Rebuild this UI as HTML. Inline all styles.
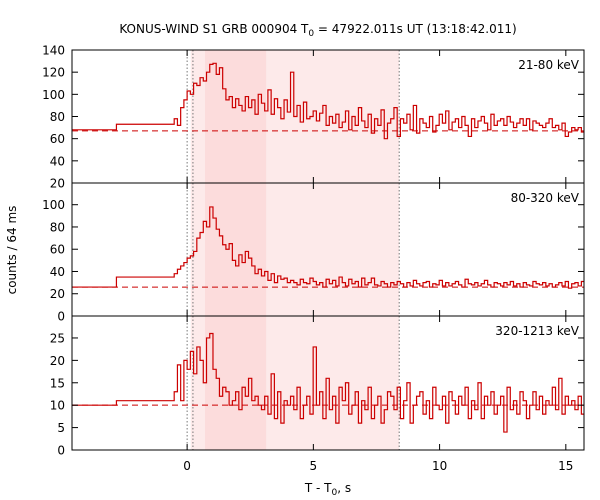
<!DOCTYPE html>
<html><head><meta charset="utf-8">
<style>
body{margin:0;background:#fff;}
svg{display:block;font-family:"DejaVu Sans","Liberation Sans",sans-serif;}
</style></head>
<body>
<svg id="chart" width="600" height="500" viewBox="0 0 600 500" xmlns="http://www.w3.org/2000/svg">
<text x="318" y="33" font-size="12" text-anchor="middle">KONUS-WIND S1 GRB 000904 T<tspan font-size="9" dy="3">0</tspan><tspan dy="-3"> = 47922.011s UT (13:18:42.011)</tspan></text>
<text x="328" y="492" font-size="12" text-anchor="middle">T - T<tspan font-size="9" dy="3">0</tspan><tspan dy="-3">, s</tspan></text>
<text x="0" y="0" font-size="12" text-anchor="middle" transform="translate(16,250) rotate(-90)">counts / 64 ms</text>
</svg>
<script>
const xTicks = [0, 5, 10, 15];
const panelLabels = ["21-80 keV", "80-320 keV", "320-1213 keV"];
const yTicksTop = [20, 40, 60, 80, 100, 120, 140];
const yTicksMid = [0, 20, 40, 60, 80, 100];
const yTicksBot = [0, 5, 10, 15, 20, 25];
const backgrounds = [67, 26, 10];
const preBins = [[-4.56, -2.8], [-2.8, -0.512]];
const preTop = [68, 73];
const preMid = [26, 35];
const preBot = [10, 11];
const binStart = -0.512;
const binWidth = 0.128;
const countsTop = [78,72,88,95,
103,100,110,108,115,112,120,127,
128,118,124,105,95,98,88,96,
90,85,98,88,95,82,100,92,
85,104,82,96,88,78,95,84,
120,80,90,75,93,78,80,85,
76,83,90,72,80,74,82,70,
75,85,68,80,72,88,76,70,
82,65,78,72,86,60,74,78,
88,62,78,74,82,68,90,65,
78,74,70,80,66,72,82,74,
85,68,75,78,70,80,72,62,
78,70,76,80,74,68,82,72,
76,78,72,80,75,70,74,78,
72,78,68,76,74,72,70,74,
78,70,72,68,74,62,66,70,
68,70,66];
const countsMid = [38,42,45,48,
52,54,58,70,75,85,80,98,
88,78,72,64,60,65,50,45,
55,48,58,52,45,38,42,36,
40,32,38,30,36,33,34,30,
32,30,28,33,30,29,34,31,
28,30,26,33,29,32,27,35,
30,27,33,29,31,26,34,28,
30,34,28,27,31,29,26,30,
28,31,29,26,30,27,32,29,
27,30,31,26,29,28,32,27,
30,27,29,31,28,26,33,29,
28,30,27,29,32,28,26,30,
29,27,30,28,31,27,29,26,
30,28,27,31,29,28,30,27,
29,26,28,30,27,31,25,29,
30,27,31];
const countsBot = [13,19,11,20,
18,22,17,23,20,15,25,26,
18,16,12,14,13,10,11,13,
9,14,12,16,11,12,10,9,
12,8,17,7,13,6,11,10,
12,9,14,7,10,12,8,23,
10,13,7,16,9,12,6,14,
11,15,8,10,13,6,11,9,
14,7,10,12,6,9,13,12,
9,14,7,11,15,6,10,12,
13,8,11,7,14,10,9,12,
6,13,11,8,12,10,14,7,
11,9,15,7,12,10,13,8,
10,12,4,14,9,11,8,13,
11,7,10,13,9,12,8,11,
10,14,9,16,8,12,10,11,
9,12,8];
const intervals = [[0.14, 8.4]];
const peakInterval = [0.71, 3.13];
const markers = [0, 0.23, 8.4];

const NS = "http://www.w3.org/2000/svg";
const svg = document.getElementById("chart");
const X0 = 72, X1 = 584, T0 = -4.56, T1 = 15.72;
const sx = t => X0 + (t - T0) / (T1 - T0) * (X1 - X0);
const panels = [
  {top: 50, bot: 183, ymin: 20, ymax: 140, ticks: yTicksTop, pre: preTop, data: countsTop},
  {top: 183, bot: 316, ymin: 0, ymax: 119.5, ticks: yTicksMid, pre: preMid, data: countsMid},
  {top: 316, bot: 450, ymin: 0, ymax: 29.9, ticks: yTicksBot, pre: preBot, data: countsBot}
];
function mk(tag, attrs) {
  const e = document.createElementNS(NS, tag);
  for (const k in attrs) e.setAttribute(k, attrs[k]);
  svg.appendChild(e);
  return e;
}
intervals.forEach(iv => {
  const r = mk("rect", {x: sx(iv[0]), y: 50, width: sx(iv[1]) - sx(iv[0]), height: 400, fill: "#fdeaea"});
  
  
});
{
  const r = mk("rect", {x: sx(peakInterval[0]), y: 50, width: sx(peakInterval[1]) - sx(peakInterval[0]), height: 400, fill: "#fcdcdc"});
  
  
}
markers.forEach(m => {
  const l = mk("line", {x1: sx(m), x2: sx(m), y1: 50, y2: 450, stroke: "#777", "stroke-width": 1, "stroke-dasharray": "1.5,2"});
  
  
});
panels.forEach((p, pi) => {
  const sy = v => p.bot - (v - p.ymin) / (p.ymax - p.ymin) * (p.bot - p.top);
  const bg = mk("line", {x1: X0, x2: X1, y1: sy(backgrounds[pi]), y2: sy(backgrounds[pi]), stroke: "#cc0000", "stroke-width": 1, "stroke-dasharray": "6,4"});
  
  
  let d = "";
  preBins.forEach((b, i) => {
    d += (i === 0 ? "M" : "L") + sx(b[0]).toFixed(2) + "," + sy(p.pre[i]).toFixed(2) + "L" + sx(b[1]).toFixed(2) + "," + sy(p.pre[i]).toFixed(2);
  });
  p.data.forEach((v, i) => {
    const a = binStart + i * binWidth, b = Math.min(a + binWidth, T1);
    d += "L" + sx(a).toFixed(2) + "," + sy(v).toFixed(2) + "L" + sx(b).toFixed(2) + "," + sy(v).toFixed(2);
  });
  const path = mk("path", {d: d, fill: "none", stroke: "#cc0000", "stroke-width": 1.2});
  
  
  const fr = mk("rect", {x: X0, y: p.top, width: X1 - X0, height: p.bot - p.top, fill: "none", stroke: "#000", "stroke-width": 1});
  
  
  p.ticks.forEach(v => {
    const y = sy(v);
    const t1 = mk("line", {x1: X0, x2: X0 + 6, y1: y, y2: y, stroke: "#000"});
    
    
    const t2 = mk("line", {x1: X1 - 6, x2: X1, y1: y, y2: y, stroke: "#000"});
    
    
    const tx = mk("text", {x: X0 - 7, y: y + 4.5, "font-size": 12, "text-anchor": "end"});
    tx.textContent = v;
    
    
  });
  xTicks.forEach(v => {
    const x = sx(v);
    const a = mk("line", {x1: x, x2: x, y1: p.top, y2: p.top + 6, stroke: "#000"});
    
    
    const b = mk("line", {x1: x, x2: x, y1: p.bot - 6, y2: p.bot, stroke: "#000"});
    
    
  });
  const lab = mk("text", {x: X1 - 5, y: p.top + 19, "font-size": 12, "text-anchor": "end"});
  lab.textContent = panelLabels[pi];
  
  
});
xTicks.forEach(v => {
  const tx = mk("text", {x: sx(v), y: 470, "font-size": 12, "text-anchor": "middle"});
  tx.textContent = v;
  
  
});
</script>
</body></html>
